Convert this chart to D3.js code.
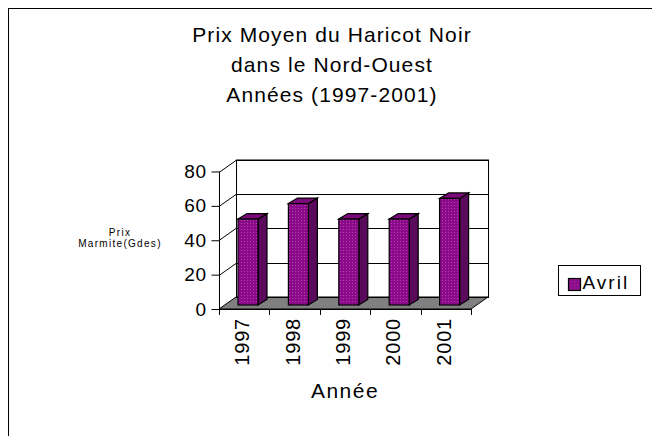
<!DOCTYPE html>
<html>
<head>
<meta charset="utf-8">
<script src="https://cdn.jsdelivr.net/npm/d3@7"></script>
<style>
  body { margin: 0; background: #fff; }
  svg { display: block; font-family: "Liberation Sans", Arial, sans-serif; }
</style>
</head>
<body>
<svg width="652" height="436"></svg>
<script>
const titleLines = ['Prix Moyen du Haricot Noir', 'dans le Nord-Ouest', 'Années (1997-2001)'];
const years = ['1997', '1998', '1999', '2000', '2001'];
const prices = [50, 59, 50, 50, 62];
const yTicks = [0, 20, 40, 60, 80];
const seriesName = 'Avril';
const xLabel = 'Année';
const yLabelLines = ['Prix', 'Marmite(Gdes)'];

const svg = d3.select('svg');

// frame
svg.append('rect')
  .attr('x', 8.5).attr('y', 8.5)
  .attr('width', 700).attr('height', 500)
  .attr('fill', 'none').attr('stroke', '#000').attr('stroke-width', 1);

// pattern for the bars
const defs = svg.append('defs');
const pat = defs.append('pattern')
  .attr('id', 'dots').attr('width', 3).attr('height', 3)
  .attr('patternUnits', 'userSpaceOnUse');
pat.append('rect').attr('width', 3).attr('height', 3).attr('fill', '#8a0a8a');
pat.append('rect').attr('x', 1).attr('y', 1).attr('width', 1).attr('height', 1).attr('fill', '#b040b0');

// front plane scales + depth offset
const xScale = d3.scaleBand().domain(years).range([219, 471]);
const yScale = d3.scaleLinear().domain([0, 80]).range([309, 171.5]);
const depth = { dx: 17, dy: -12 };
const yTop = yScale(80);

const walls = svg.append('g');

// floor
walls.append('path')
  .attr('d', `M219,309 L471,309 L${471 + depth.dx},${309 + depth.dy} L${219 + depth.dx},${309 + depth.dy} Z`)
  .attr('fill', '#808080').attr('stroke', '#000');

// back wall + gridlines
walls.append('rect')
  .attr('x', 219 + depth.dx + 0.5).attr('y', yTop + depth.dy + 0.5)
  .attr('width', 252).attr('height', 309 - yTop)
  .attr('fill', 'none').attr('stroke', '#000');

walls.selectAll('.grid').data(yTicks.slice(1)).enter().append('path')
  .attr('class', 'grid')
  .attr('d', d => {
    const y = Math.round(yScale(d)) + 0.5;
    return `M219,${y} L${219 + depth.dx},${y + depth.dy} L${471 + depth.dx},${y + depth.dy}`;
  })
  .attr('fill', 'none').attr('stroke', '#000');

// left wall front edge
walls.append('line')
  .attr('x1', 219.5).attr('x2', 219.5).attr('y1', yTop).attr('y2', 309)
  .attr('stroke', '#000');

// y axis
const yAxisG = svg.append('g').attr('transform', 'translate(219.5,0)')
  .call(d3.axisLeft(yScale).tickValues(yTicks).tickSize(8).tickPadding(5).tickFormat(d3.format('d')));
yAxisG.select('.domain').remove();
yAxisG.selectAll('line').attr('stroke', '#000');
yAxisG.selectAll('text')
  .attr('font-size', 19).attr('fill', '#000').attr('letter-spacing', 0.5)
  .attr('font-family', '"Liberation Sans", Arial, sans-serif');

// x axis (category boundaries)
svg.append('line')
  .attr('x1', 219).attr('x2', 471).attr('y1', 309.5).attr('y2', 309.5).attr('stroke', '#000');
const bounds = years.map(d => xScale(d)).concat([xScale.range()[1]]);
svg.selectAll('.xtick').data(bounds).enter().append('line')
  .attr('x1', d => Math.round(d) + 0.5).attr('x2', d => Math.round(d) + 0.5)
  .attr('y1', 309).attr('y2', 315).attr('stroke', '#000');

svg.selectAll('.xlab').data(years).enter().append('text')
  .attr('transform', d => `translate(${xScale(d) + xScale.bandwidth() / 2 + 5},318) rotate(-90)`)
  .attr('text-anchor', 'end')
  .attr('font-size', 20).attr('letter-spacing', 0.8)
  .text(d => d);

// bars
const barW = 20, bdx = 9, bdy = -5.5;
const front = { dx: 5, dy: -4 };
const bars = svg.append('g').selectAll('g').data(years).enter().append('g');
bars.each(function(d, i) {
  const g = d3.select(this);
  const x0 = xScale(d) + 14 + front.dx;
  const x1 = x0 + barW;
  const yb = yScale(0) + front.dy;
  const yt = yScale(prices[i]) + front.dy;
  g.append('path')
    .attr('d', `M${x1},${yt} L${x1 + bdx},${yt + bdy} L${x1 + bdx},${yb + bdy} L${x1},${yb} Z`)
    .attr('fill', '#5a0a5a').attr('stroke', '#000').attr('stroke-width', 1.2);
  g.append('path')
    .attr('d', `M${x0},${yt} L${x0 + bdx},${yt + bdy} L${x1 + bdx},${yt + bdy} L${x1},${yt} Z`)
    .attr('fill', '#7a0a7a').attr('stroke', '#000').attr('stroke-width', 1.2);
  g.append('rect')
    .attr('x', x0).attr('y', yt).attr('width', barW).attr('height', yb - yt)
    .attr('fill', 'url(#dots)').attr('stroke', '#000').attr('stroke-width', 1.2);
});

// title
svg.append('g').selectAll('text').data(titleLines).enter().append('text')
  .attr('x', 332).attr('y', (d, i) => 42 + i * 30)
  .attr('text-anchor', 'middle').attr('font-size', 21).attr('letter-spacing', 1.1)
  .text(d => d);

// axis titles
svg.append('text')
  .attr('x', 345).attr('y', 398).attr('text-anchor', 'middle')
  .attr('font-size', 21).attr('letter-spacing', 1.5)
  .text(xLabel);

svg.append('g').selectAll('text').data(yLabelLines).enter().append('text')
  .attr('x', 120).attr('y', (d, i) => 236 + i * 10.5)
  .attr('text-anchor', 'middle').attr('font-size', 10).attr('letter-spacing', 1.3)
  .text(d => d);

// legend
const leg = svg.append('g').attr('transform', 'translate(558.5,265.5)');
leg.append('rect').attr('width', 82).attr('height', 30).attr('fill', '#fff').attr('stroke', '#000');
leg.append('rect').attr('x', 10).attr('y', 13).attr('width', 12).attr('height', 12)
  .attr('fill', 'url(#dots)').attr('stroke', '#000').attr('stroke-width', 1.2);
leg.append('text').attr('x', 24).attr('y', 23).attr('font-size', 19).attr('letter-spacing', 2)
  .text(seriesName);
</script>
</body>
</html>
